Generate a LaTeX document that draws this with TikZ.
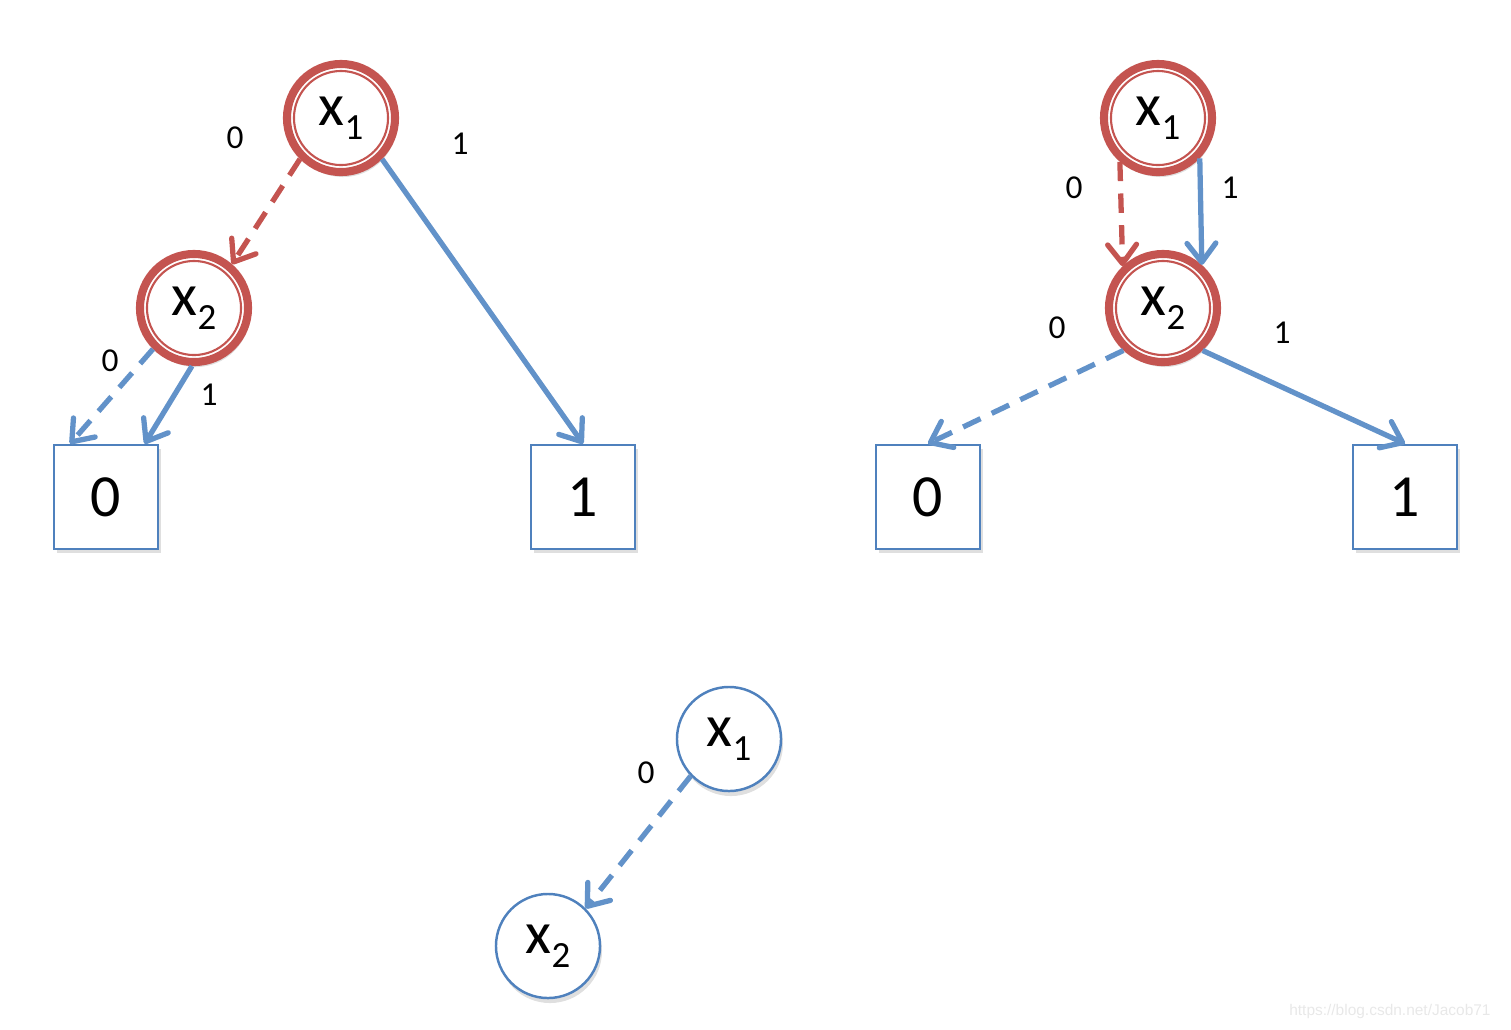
\documentclass[tikz,border=0pt]{standalone}
\usepackage{fontspec}
\setmainfont{Carlito}
\newfontfamily\markfont{Liberation Sans}
\usetikzlibrary{arrows.meta,shadows}
\definecolor{ringred}{RGB}{196,84,80}
\definecolor{nodeblue}{RGB}{79,129,189}
\definecolor{edgeblue}{RGB}{98,146,201}
\newcommand{\xvar}[1]{x\raisebox{-0.5ex}{\fontsize{10.5}{10.5}\selectfont #1}}

\tikzset{
  ring/.style={circle, draw=ringred, line width=2.3pt, fill=white,
    minimum size=1.08cm, inner sep=0pt, font=\fontsize{17}{17}\selectfont,
    drop shadow={opacity=0.25, shadow xshift=0.02cm, shadow yshift=-0.05cm},
    path picture={\draw[ringred, line width=0.6pt]
      (path picture bounding box.center) circle (0.47cm);}},
  plain/.style={circle, draw=nodeblue, line width=0.7pt, fill=white,
    minimum size=1.04cm, inner sep=0pt, font=\fontsize{17}{17}\selectfont,
    drop shadow={opacity=0.25, shadow xshift=0.02cm, shadow yshift=-0.05cm}},
  leaf/.style={rectangle, draw=nodeblue, line width=0.7pt, fill=white,
    minimum size=1.04cm, inner sep=0pt, font=\fontsize{17}{17}\selectfont,
    drop shadow={opacity=0.25, shadow xshift=0.03cm, shadow yshift=-0.04cm}},
  elabel/.style={font=\fontsize{9.5}{9.5}\selectfont},
  tip/.style={-{Straight Barb[length=5.4pt, width=8.2pt, round]}},
  bluearc/.style={tip, edgeblue, line width=1.5pt},
  bluedash/.style={bluearc, dash pattern=on 5.5pt off 3.5pt},
  reddash/.style={tip, ringred, line width=1.5pt, dash pattern=on 5.5pt off 3.5pt}
}

\begin{document}
\begin{tikzpicture}[x=0.01cm, y=-0.01cm]
\useasboundingbox (0,0) rectangle (1511,1029);

% left tree
\node[ring] (ax1) at (341,118) {\xvar{1}};
\node[ring] (ax2) at (194,308) {\xvar{2}};
\node[leaf] (a0) at (106,497) {0};
\node[leaf] (a1) at (583,497) {1};
\draw[reddash] (ax1.225) -- (ax2.49);
\draw[bluearc] (ax1.315) -- (a1.north);
\draw[bluedash] (ax2.225) -- (a0.124);
\draw[bluearc] (ax2.268) -- (a0.54);
\node[elabel] (la1) at (235,138) {0};
\node[elabel] (la2) at (460,144) {1};
\node[elabel] (la3) at (110,361) {0};
\node[elabel] (la4) at (209,395) {1};

% right tree
\node[ring] (bx1) at (1158,118) {\xvar{1}};
\node[ring] (bx2) at (1163,308) {\xvar{2}};
\node[leaf] (b0) at (928,497) {0};
\node[leaf] (b1) at (1405,497) {1};
\draw[reddash] (bx1.229) -- (bx2.134);
\draw[bluearc] (bx1.316) -- (bx2.48);
\draw[bluedash] (bx2.227) -- (b0.north);
\draw[bluearc] (bx2.313) -- (b1.north);
\node[elabel] (lb1) at (1074,188) {0};
\node[elabel] (lb2) at (1230,188) {1};
\node[elabel] (lb3) at (1057,328) {0};
\node[elabel] (lb4) at (1282,333) {1};

% bottom pair
\node[plain] (cx1) at (729,739) {\xvar{1}};
\node[plain] (cx2) at (548,946) {\xvar{2}};
\draw[bluedash] (cx1.224) -- (cx2.45);
\node[elabel] (lc1) at (646,773) {0};

\node[font=\markfont\fontsize{4.4}{4.4}\selectfont, text=black!9, anchor=east]
  (mark) at (1503,1011) {https://blog.csdn.net/Jacob71};
\end{tikzpicture}
\end{document}
